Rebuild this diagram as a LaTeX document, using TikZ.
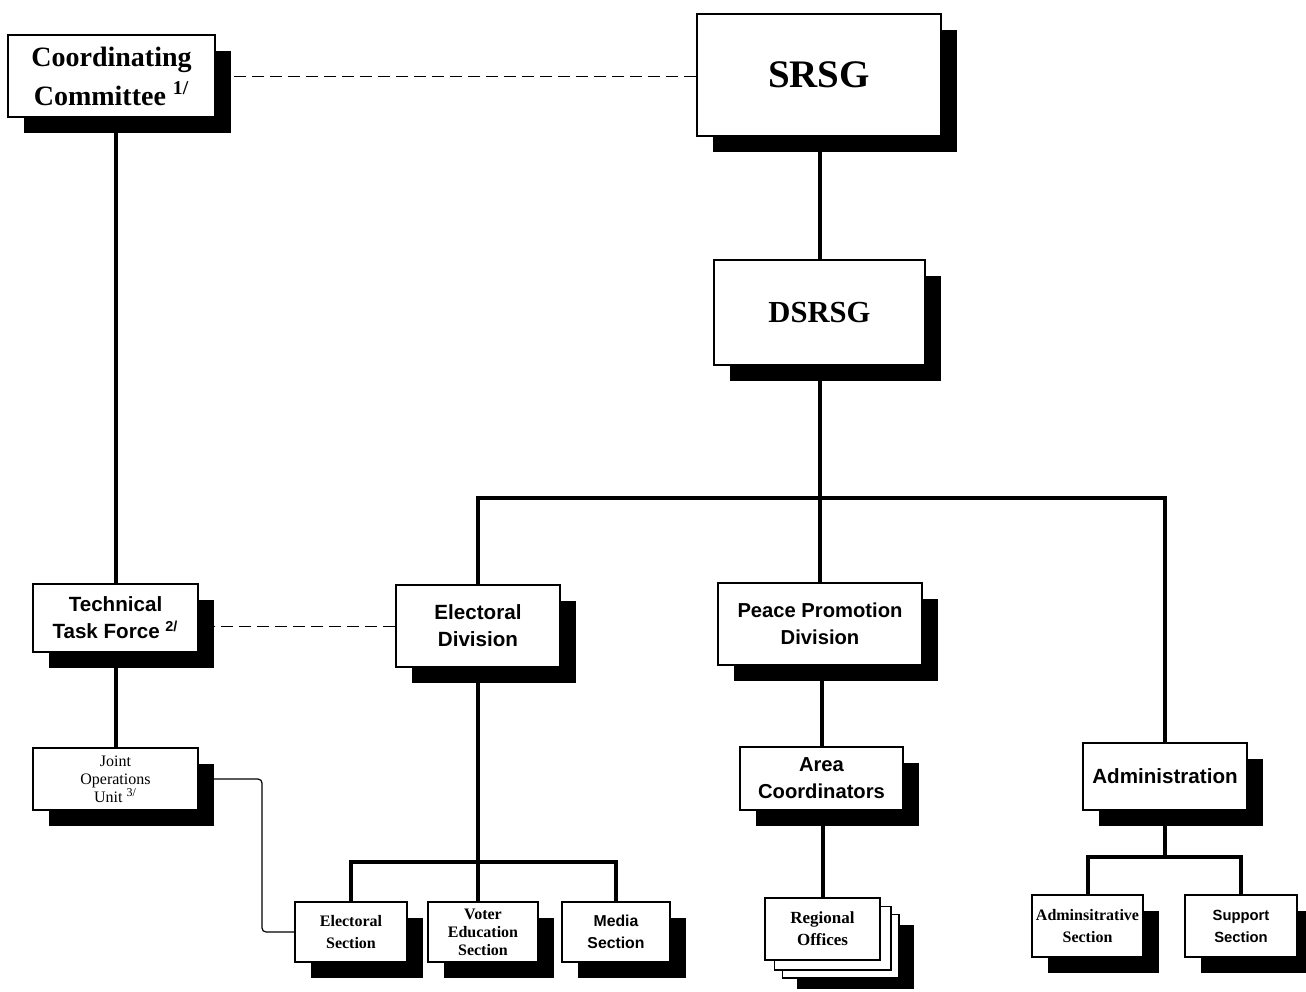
\documentclass[tikz,border=0pt]{standalone}
\usepackage{fontspec}
\setmainfont{Liberation Serif}
\newfontfamily\sanf{Liberation Sans}
\usetikzlibrary{shadows,backgrounds,calc}
\begin{document}
\begin{tikzpicture}[x=0.5pt,y=-0.5pt,
  box/.style={draw=black, line width=0.75pt, fill=white, align=center, inner sep=0pt},
  shbox/.style={box, drop shadow={shadow xshift=8pt,shadow yshift=-8pt,fill=black,opacity=1}},
  serifbig/.style={font=\bfseries\fontsize{#1}{1.3*#1}\selectfont},
  conn/.style={line width=2pt},
  dashconn/.style={line width=0.5pt, dash pattern=on 6pt off 3pt},
  thinconn/.style={line width=0.6pt, rounded corners=2pt}]
\useasboundingbox (0,0) rectangle (1306,991);

% top level
\node[shbox, minimum width=103.5pt, minimum height=41pt,
      font=\bfseries\fontsize{14}{19.5}\selectfont] (cc) at (111.5,76)
      {Coordinating\\Committee \textsuperscript{1/}};
\node[shbox, minimum width=122pt, minimum height=61pt,
      font=\bfseries\fontsize{19.5}{24}\selectfont] (srsg) at (819,75) {SRSG};
\node[shbox, minimum width=105.5pt, minimum height=52.5pt,
      font=\bfseries\fontsize{15.3}{18}\selectfont] (dsrsg) at (819.5,312.5) {DSRSG};

% middle level
\node[shbox, minimum width=82.5pt, minimum height=34pt,
      font=\sanf\bfseries\fontsize{10.3}{13.5}\selectfont] (ttf) at (115.5,618)
      {Technical\\Task Force \textsuperscript{2/}};
\node[shbox, minimum width=82.5pt, minimum height=31pt,
      font=\fontsize{8}{9}\selectfont] (jou) at (115.5,779)
      {Joint\\Operations\\Unit \textsuperscript{3/}};
\node[shbox, minimum width=82pt, minimum height=41pt,
      font=\sanf\bfseries\fontsize{10.3}{13.5}\selectfont] (ed) at (478,626)
      {Electoral\\Division};
\node[shbox, minimum width=102pt, minimum height=41pt,
      font=\sanf\bfseries\fontsize{10.1}{13.5}\selectfont] (ppd) at (820,624)
      {Peace Promotion\\Division};
\node[shbox, minimum width=81.5pt, minimum height=31.5pt,
      font=\sanf\bfseries\fontsize{10.1}{13.5}\selectfont] (ac) at (821.5,778.5)
      {Area\\Coordinators};
\node[shbox, minimum width=82pt, minimum height=33.5pt,
      font=\sanf\bfseries\fontsize{10.3}{13.5}\selectfont] (adm) at (1165,776.5)
      {Administration};

% bottom level
\node[shbox, minimum width=56pt, minimum height=30pt,
      font=\bfseries\fontsize{8}{11}\selectfont] (es) at (351,932)
      {Electoral\\Section};
\node[shbox, minimum width=55pt, minimum height=30pt,
      font=\bfseries\fontsize{8}{9}\selectfont] (ves) at (483,932)
      {Voter\\Education\\Section};
\node[shbox, minimum width=54pt, minimum height=30pt,
      font=\sanf\bfseries\fontsize{7.9}{11}\selectfont] (ms) at (616,932)
      {Media\\Section};
\node[box, minimum width=57.5pt, minimum height=31pt,
      font=\bfseries\fontsize{8.5}{11}\selectfont] (ro) at (822.5,929)
      {Regional\\Offices};
\node[shbox, minimum width=55.5pt, minimum height=31pt,
      font=\bfseries\fontsize{8}{11}\selectfont] (as) at (1087.5,926)
      {Adminsitrative\\Section};
\node[shbox, minimum width=56pt, minimum height=31pt,
      font=\sanf\bfseries\fontsize{7.4}{11}\selectfont] (ss) at (1241,926)
      {Support\\Section};

% stacked sheets behind Regional Offices
\begin{scope}[on background layer]
  \fill[black] ([shift={(33,28)}]ro.north west) rectangle ([shift={(33,28)}]ro.south east);
  \filldraw[fill=white, line width=0.75pt] ([shift={(18,17)}]ro.north west) rectangle ([shift={(18,17)}]ro.south east);
  \filldraw[fill=white, line width=0.75pt] ([shift={(10,9)}]ro.north west) rectangle ([shift={(10,9)}]ro.south east);
\end{scope}

% connectors
\coordinate (bus1) at (0,498);
\coordinate (bus2) at (0,862);
\coordinate (bus3) at (0,857);
\coordinate (jbend) at (262,0);

\draw[dashconn] (cc.east) -- (cc.east -| srsg.west);
\draw[conn] (ttf.north) -- (ttf.north |- cc.south);
\draw[conn] (jou.north) -- (jou.north |- ttf.south);
\draw[dashconn] (ed.west) -- (ed.west -| ttf.east);
\draw[thinconn] (jou.east) -| (jbend |- es.west) -- (es.west);

\draw[conn] (dsrsg.north) -- (dsrsg.north |- srsg.south);
\draw[conn] (ppd.north) -- (ppd.north |- dsrsg.south);
\draw[conn] (ed.north) -- (ed.north |- bus1) -- (adm.north |- bus1) -- (adm.north);
\draw[conn] (ac.north) -- (ac.north |- ppd.south);
\draw[conn] (ro.north) -- (ro.north |- ac.south);

\draw[conn] (ed.south) -- (ed.south |- ves.north);
\draw[conn] (es.north) -- (es.north |- bus2) -- (ms.north |- bus2) -- (ms.north);

\draw[conn] (adm.south) -- (adm.south |- bus3);
\draw[conn] (as.north) -- (as.north |- bus3) -- (ss.north |- bus3) -- (ss.north);
\end{tikzpicture}
\end{document}
